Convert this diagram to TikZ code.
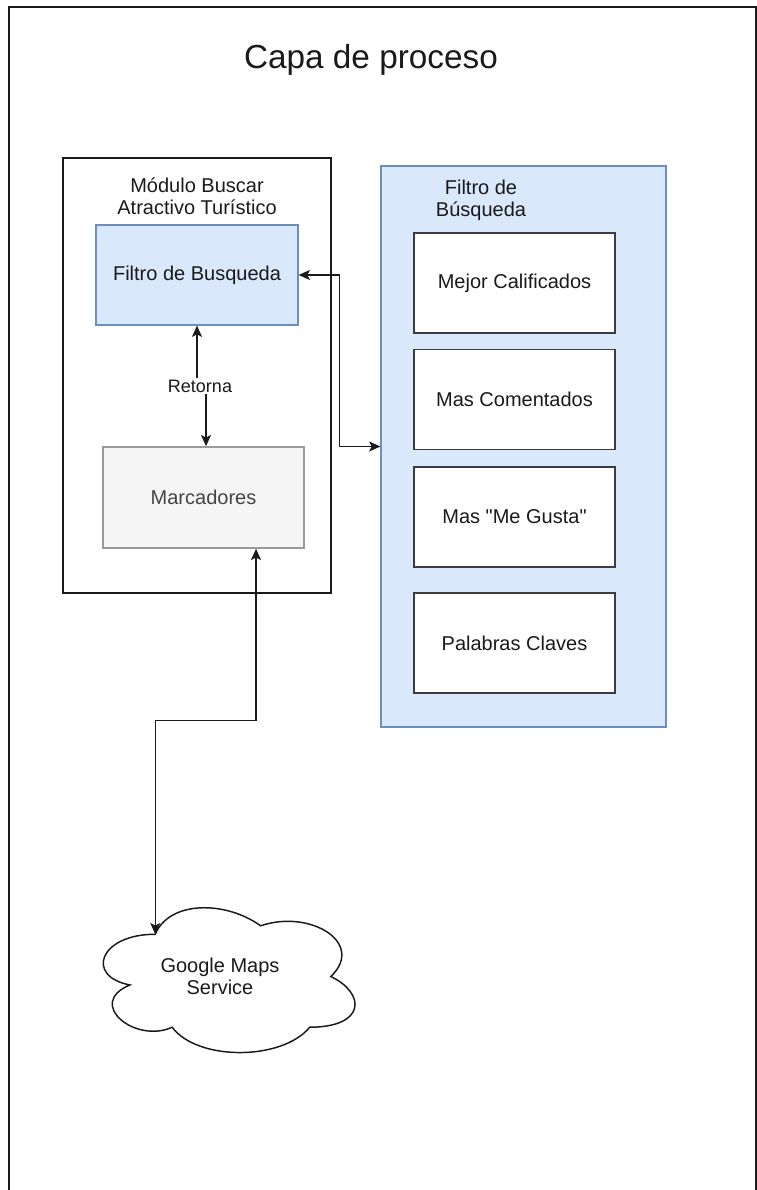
\documentclass[tikz,border=0pt]{standalone}
\usepackage{fontspec}
\setmainfont{Liberation Sans}[Ligatures=TeXOff]
\usetikzlibrary{arrows.meta,calc}
\definecolor{blueFill}{HTML}{DAE8FC}
\definecolor{blueLine}{HTML}{6C8EBF}
\definecolor{greyFill}{HTML}{F5F5F5}
\definecolor{greyLine}{HTML}{9A9A9A}
\definecolor{ink}{HTML}{1A1A1A}
\definecolor{greyInk}{HTML}{444444}

\begin{document}
\begin{tikzpicture}[x=0.75pt,y=-0.75pt,
  every node/.style={font=\fontsize{15}{16.5}\selectfont, text=ink, inner sep=0pt, align=center},
  bluebox/.style={draw=blueLine, fill=blueFill, line width=0.9pt},
  itembox/.style={draw=ink!85, fill=white, line width=1.1pt, minimum width=150.75pt, minimum height=75pt},
  greybox/.style={draw=greyLine, fill=greyFill, text=greyInk, line width=1.1pt},
  tip/.tip={Stealth[length=8.5pt,width=7.5pt,inset=2pt]},
  link/.style={draw=ink, line width=1.1pt, tip-tip},
  edgelabel/.style={fill=white, inner sep=1.5pt, font=\fontsize{13.5}{15}\selectfont},
]
\useasboundingbox (0,0) rectangle (757,1190);

% page frame (open at the bottom)
\draw[ink, line width=1.5pt] (9,1192) -- (9,7) -- (756,7) -- (756,1192);

\node[font=\fontsize{25}{30}\selectfont] (title) at (371,60) {Capa de proceso};

% search module
\node[draw=ink, line width=1.1pt, minimum width=201pt, minimum height=326.25pt] (modulo) at (197,375.5) {};
\node (modtitle) at (197,196) {Módulo Buscar\\Atractivo Turístico};

% filter panel
\node[bluebox, minimum width=213.75pt, minimum height=420.75pt] (panel) at (523.5,446.5) {};
\node (paneltitle) at (481,200) {Filtro de\\Búsqueda};

\node[itembox] (mejor)  at (514.5,283)   {Mejor Calificados};
\node[itembox] (coment) at (514.5,399.5) {Mas Comentados};
\node[itembox] (gusta)  at (514.5,517)   {Mas "Me Gusta"};
\node[itembox] (claves) at (514.5,643)   {Palabras Claves};

% module contents
\node[bluebox, minimum width=151.5pt, minimum height=75pt] (filtro) at (197,275) {Filtro de Busqueda};
\node[greybox, minimum width=150.75pt, minimum height=75.75pt] (marc) at (203.5,497.5) {Marcadores};

% external service
\begin{scope}[shift={(85,892)}, xscale=281, yscale=169]
  \draw[ink, line width=1.1pt, fill=white]
    (0.25,0.25) .. controls (0.05,0.25) and (0,0.5) .. (0.16,0.55)
    .. controls (0,0.66) and (0.18,0.9) .. (0.31,0.8)
    .. controls (0.4,1) and (0.7,1) .. (0.8,0.8)
    .. controls (1,0.8) and (1,0.6) .. (0.875,0.5)
    .. controls (1,0.3) and (0.8,0.1) .. (0.625,0.2)
    .. controls (0.5,0.05) and (0.3,0.05) .. (0.25,0.25) -- cycle;
  \coordinate (cloudtop) at (0.25,0.25);
\end{scope}
\node (cloud) at (220,976) {Google Maps\\Service};

% connectors
\draw[link] (filtro.east) -- ++(41,0) |- (panel.west);
\draw[link] (filtro.south) -- ++(0,61) -| ([xshift=1.9pt]marc.north);
\node[edgelabel] (retorna) at (200,386) {Retorna};
\draw[link] ([xshift=39.4pt]marc.south) -- ++(0,172) -| (cloudtop);
\end{tikzpicture}
\end{document}
